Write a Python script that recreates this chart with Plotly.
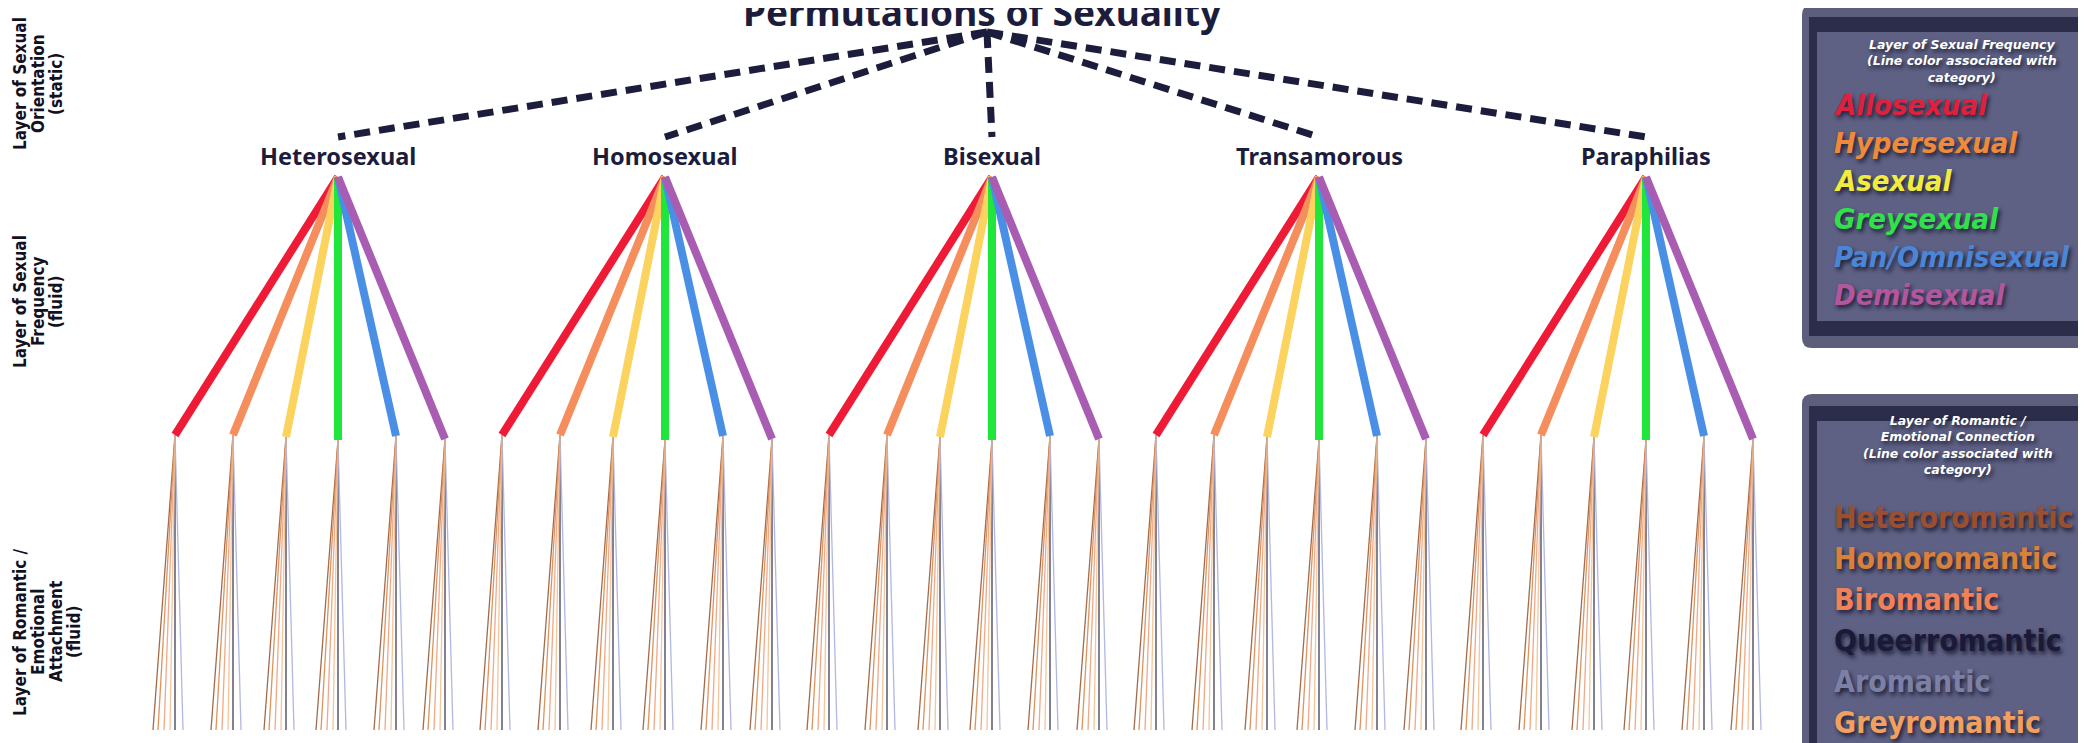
import plotly.graph_objects as go

# ---------------- data ----------------
TITLE = "Permutations of Sexuality"
orientations = ["Heterosexual", "Homosexual", "Bisexual", "Transamorous", "Paraphilias"]
frequencies = ["Allosexual", "Hypersexual", "Asexual", "Greysexual", "Pan/Omnisexual", "Demisexual"]
frequency_line_colors = ["#ef1b36", "#f58d5c", "#fbd35e", "#1fe63b", "#4a8fe6", "#a95db2"]
frequency_legend_colors = ["#e0203c", "#ef8a3a", "#f2ec3c", "#2fe24a", "#4a86d8", "#b4569e"]
romantic = ["Heteroromantic", "Homoromantic", "Biromantic", "Queerromantic", "Aromantic", "Greyromantic"]
romantic_line_colors = ["#9c5a38", "#d98a4e", "#efa07e", "#2a2a48", "#aab0e0", "#f5c08e"]
romantic_legend_colors = ["#9a5030", "#d9803a", "#f28058", "#1a1a38", "#7d80a6", "#f2a060"]
layer_labels = [
    ["Layer of Sexual", "Orientation", "(static)"],
    ["Layer of Sexual", "Frequency", "(fluid)"],
    ["Layer of Romantic /", "Emotional", "Attachment", "(fluid)"],
]
freq_legend_title = "Layer of Sexual Frequency<br>(Line color associated with<br>category)"
rom_legend_title = "Layer of Romantic /<br>Emotional Connection<br>(Line color associated with<br>category)"

# ---------------- layout geometry (pixel space) ----------------
W, H = 2086, 743
ORIENT_X0, ORIENT_STEP = 330, 327
DASH_APEX = (979, 24)
DASH_END_Y = 129
LABEL_Y = 148
FAN_APEX_Y = 169
FAN_DX = [-163, -105, -52, 0, 58, 107]
FAN_END_Y = [427, 427, 429, 432, 428, 431]
ROM_DX = [-22, -17, -11, 0, 8, -5]
ROM_END_Y = 722
LAYER_LABEL_Y = [76, 294, 624]
LAYER_LINE_X0, LAYER_LINE_STEP = 12, 18
NAVY = "#1c1c3c"

ox = [ORIENT_X0 + ORIENT_STEP * i for i in range(len(orientations))]

fig = go.Figure()

# romantic bundles
for r, rname in enumerate(romantic):
    xs, ys = [], []
    for x0 in ox:
        for f in range(len(frequencies)):
            sx, sy = x0 + FAN_DX[f], FAN_END_Y[f]
            xs += [sx, sx + ROM_DX[r], None]
            ys += [sy, ROM_END_Y, None]
    fig.add_trace(go.Scatter(x=xs, y=ys, mode="lines", name=rname,
                             line=dict(color=romantic_line_colors[r], width=1.3),
                             opacity=0.9, hoverinfo="skip"))

# frequency fans
for f, fname in enumerate(frequencies):
    xs, ys = [], []
    for x0 in ox:
        xs += [x0, x0 + FAN_DX[f], None]
        ys += [FAN_APEX_Y, FAN_END_Y[f], None]
    fig.add_trace(go.Scatter(x=xs, y=ys, mode="lines", name=fname,
                             line=dict(color=frequency_line_colors[f], width=8),
                             hoverinfo="skip"))

# dashed orientation links
xs, ys = [], []
for x0 in ox:
    xs += [DASH_APEX[0], x0, None]
    ys += [DASH_APEX[1], DASH_END_Y, None]
fig.add_trace(go.Scatter(x=xs, y=ys, mode="lines", name="orientation",
                         line=dict(color=NAVY, width=7, dash="16px,9px"),
                         hoverinfo="skip"))

ann = []
# title
ann.append(dict(x=974, y=3, xref="x", yref="y", text="<b>%s</b>" % TITLE,
                showarrow=False, xanchor="center", yanchor="middle",
                font=dict(family="Noto Sans", size=37, color=NAVY)))
# orientation labels
for x0, name in zip(ox, orientations):
    ann.append(dict(x=x0, y=LABEL_Y, xref="x", yref="y", text="<b>%s</b>" % name,
                    showarrow=False, xanchor="center", yanchor="middle",
                    font=dict(family="Noto Sans", size=23.5, color=NAVY)))
# layer labels (one annotation per text line for tight line spacing)
for ly, lines in zip(LAYER_LABEL_Y, layer_labels):
    for j, line in enumerate(lines):
        ann.append(dict(x=LAYER_LINE_X0 + LAYER_LINE_STEP * j, y=ly, xref="x", yref="y",
                        text="<b>%s</b>" % line, showarrow=False, textangle=-90,
                        xanchor="center", yanchor="middle",
                        font=dict(family="DejaVu Sans Condensed", size=17, color="#111122")))


def rrect(x0, y0, x1, y1, r):
    return (f"M{x0+r},{y0} L{x1-r},{y0} Q{x1},{y0} {x1},{y0+r} L{x1},{y1-r} Q{x1},{y1} {x1-r},{y1} "
            f"L{x0+r},{y1} Q{x0},{y1} {x0},{y1-r} L{x0},{y0+r} Q{x0},{y0} {x0+r},{y0} Z")


shapes = []
for (top, bot) in [(-3, 340), (386, 790)]:
    shapes.append(dict(type="path", xref="x", yref="y", path=rrect(1794, top, 2110, bot, 10),
                       fillcolor="#5c5e7c", line=dict(width=0), layer="below"))
    shapes.append(dict(type="rect", xref="x", yref="y", x0=1801, y0=top + 12, x1=2110, y1=bot - 12,
                       fillcolor="#2c2d4a", line=dict(width=0), layer="below"))
    shapes.append(dict(type="rect", xref="x", yref="y", x0=1809, y0=top + 27, x1=2076, y1=bot - 27,
                       fillcolor="#5e6184", line=dict(width=0), layer="below"))

SHADOW = "2px 3px 4px rgba(10,10,30,0.75)"
# legend 1
ann.append(dict(x=1954, y=53, xref="x", yref="y", text="<b><i>%s</i></b>" % freq_legend_title,
                showarrow=False, xanchor="center", yanchor="middle",
                font=dict(family="DejaVu Sans", size=12.5, color="white", shadow=SHADOW)))
for i, (name, col) in enumerate(zip(frequencies, frequency_legend_colors)):
    ann.append(dict(x=1824, y=97 + 38 * i, xref="x", yref="y", text="<b><i>%s</i></b>" % name,
                    showarrow=False, xanchor="left", yanchor="middle",
                    font=dict(family="DejaVu Sans Condensed", size=29, color=col, shadow=SHADOW)))
# legend 2
ann.append(dict(x=1950, y=437, xref="x", yref="y", text="<b><i>%s</i></b>" % rom_legend_title,
                showarrow=False, xanchor="center", yanchor="middle",
                font=dict(family="DejaVu Sans", size=12.5, color="white", shadow=SHADOW)))
for i, (name, col) in enumerate(zip(romantic, romantic_legend_colors)):
    ann.append(dict(x=1824, y=509 + 41 * i, xref="x", yref="y", text="<b>%s</b>" % name,
                    showarrow=False, xanchor="left", yanchor="middle",
                    font=dict(family="DejaVu Sans Condensed", size=30, color=col, shadow=SHADOW)))

fig.update_layout(
    width=W, height=H, margin=dict(l=0, r=0, t=0, b=0),
    paper_bgcolor="white", plot_bgcolor="white", showlegend=False,
    xaxis=dict(range=[0, W], visible=False, fixedrange=True),
    yaxis=dict(range=[H, 0], visible=False, fixedrange=True),
    annotations=ann, shapes=shapes,
)
fig.write_html("out.html")
